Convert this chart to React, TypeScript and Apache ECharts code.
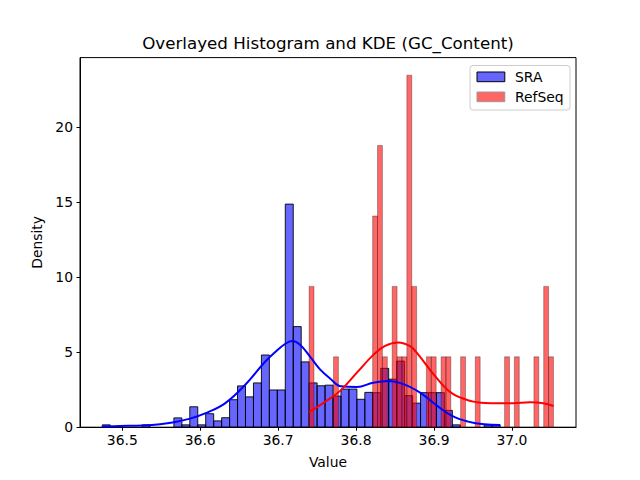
import React, { useEffect, useRef } from "react";
import * as echarts from "echarts";

// ---- data ----
const sraBinStart = 36.4743;
const sraBinWidth = 0.01021;
const sraDensity = [
  0.155, 0, 0, 0, 0, 0.155, 0, 0, 0, 0.62,
  0.155, 1.36, 0.155, 0.9, 0.42, 0.63, 1.83, 2.75, 2.02, 2.95,
  4.81, 2.48, 2.48, 14.86, 6.7, 4.35, 2.95, 2.76, 2.8, 2.07,
  2.54, 2.54, 1.86, 2.32, 2.3, 3.92, 3.2, 4.4, 2.1, 1.6,
  2.3, 2.3, 2.3, 1.12, 0.155, 0, 0, 0, 0.155, 0.155,
];

const refBinStart = 36.7397;
const refBinWidth = 0.006272;
const refDensity = [
  9.38, 0, 0, 0, 0, 4.69, 0, 0, 0, 0,
  0, 0, 0, 14.07, 18.76, 4.69, 0, 9.38, 4.69, 4.69,
  23.45, 9.38, 0, 0, 4.69, 4.69, 0, 4.69, 4.69, 0,
  0, 4.69, 0, 0, 4.69, 0, 0, 0, 0, 0,
  4.69, 0, 4.69, 0, 0, 0, 4.69, 0, 9.38, 4.69,
];

const sraKdeX = [
  36.4743, 36.497, 36.5266, 36.5484, 36.5664, 36.5869, 36.6062, 36.6318, 36.6575,
  36.6832, 36.696, 36.7088, 36.7178, 36.7281, 36.7409, 36.7537, 36.7666, 36.7807,
  36.8012, 36.8218, 36.841, 36.8616, 36.8821, 36.9027, 36.9232, 36.9437, 36.9643, 36.985,
];
const sraKdeY = [
  0.05, 0.08, 0.12, 0.2, 0.33, 0.57, 0.92, 1.59, 2.81,
  4.36, 5.0, 5.54, 5.74, 5.5, 4.7, 3.85, 3.25, 2.72,
  2.68, 2.96, 3.07, 2.85, 2.3, 1.48, 0.75, 0.37, 0.19, 0.15,
];

const refKdeX = [
  36.7397, 36.7576, 36.7795, 36.8013, 36.8218, 36.8372, 36.8539, 36.8693, 36.8796,
  36.9014, 36.9232, 36.9489, 36.9656, 36.981, 37.0016, 37.0234, 37.0401, 37.0533,
];
const refKdeY = [
  1.0, 1.6, 2.42, 3.65, 4.8, 5.42, 5.65, 5.4, 4.85,
  3.4, 2.25, 1.72, 1.62, 1.59, 1.6, 1.66, 1.6, 1.41,
];

const xTicks = [36.5, 36.6, 36.7, 36.8, 36.9, 37.0];
const yTicks = [0, 5, 10, 15, 20];
const xMin = 36.4457;
const xMax = 37.0822;
const yMax = 24.62;

const titleText = "Overlayed Histogram and KDE (GC_Content)";
const seriesNames = ["SRA", "RefSeq"];

const FONT = "DejaVu Sans";

function bins(start: number, width: number, dens: number[]) {
  const out: number[][] = [];
  dens.forEach((d, i) => {
    if (d > 0) out.push([start + i * width, start + (i + 1) * width, d]);
  });
  return out;
}

function makeRender(fill: string, stroke: string, lw: number) {
  return (params: any, api: any) => {
    const x0 = api.value(0);
    const x1 = api.value(1);
    const y = api.value(2);
    const p0 = api.coord([x0, y]);
    const p1 = api.coord([x1, 0]);
    return {
      type: "rect",
      shape: { x: p0[0], y: p0[1], width: p1[0] - p0[0], height: p1[1] - p0[1] },
      style: { fill, stroke, lineWidth: lw },
    };
  };
}

export default function App() {
  const ref = useRef<HTMLDivElement>(null);
  useEffect(() => {
    if (!ref.current) return;
    const chart = echarts.init(ref.current, undefined, { renderer: "svg" });
    const option: any = {
      animation: false,
      backgroundColor: "#ffffff",
      textStyle: { fontFamily: FONT },
      grid: {
        left: 80,
        right: 64,
        top: 57.6,
        bottom: 52.8,
        show: true,
        borderColor: "#000",
        borderWidth: 1,
        containLabel: false,
      },
      xAxis: {
        type: "value",
        min: xMin,
        max: xMax,
        name: "Value",
        nameLocation: "middle",
        nameGap: 28,
        nameTextStyle: { fontSize: 13.9, color: "#000", fontFamily: FONT },
        axisLine: { show: true, lineStyle: { color: "#000", width: 1 } },
        axisTick: {
          show: true,
          inside: false,
          length: 3.5,
          customValues: xTicks,
          lineStyle: { color: "#000" },
        },
        axisLabel: {
          customValues: xTicks,
          margin: 6,
          fontSize: 13.9,
          color: "#000",
          fontFamily: FONT,
          formatter: (v: number) => v.toFixed(1),
        },
        splitLine: { show: false },
      },
      yAxis: {
        type: "value",
        min: 0,
        max: yMax,
        name: "Density",
        nameLocation: "middle",
        nameGap: 31,
        nameRotate: 90,
        nameTextStyle: { fontSize: 13.9, color: "#000", fontFamily: FONT },
        axisLine: { show: true, lineStyle: { color: "#000", width: 1 } },
        axisTick: {
          show: true,
          inside: false,
          length: 3.5,
          customValues: yTicks,
          lineStyle: { color: "#000" },
        },
        axisLabel: {
          customValues: yTicks,
          margin: 7,
          fontSize: 13.9,
          color: "#000",
          fontFamily: FONT,
          formatter: (v: number) => String(Math.round(v)),
        },
        splitLine: { show: false },
      },
      graphic: [
        {
          type: "text",
          x: 328,
          y: 43,
          z: 100,
          style: {
            text: titleText,
            font: `16.7px "${FONT}"`,
            fill: "#000",
            textAlign: "center",
            textVerticalAlign: "middle",
          },
        },
        {
          type: "rect",
          z: 100,
          shape: { x: 470, y: 65.5, width: 100, height: 44.5, r: 3 },
          style: { fill: "rgba(255,255,255,0.8)", stroke: "#cccccc", lineWidth: 1 },
        },
        {
          type: "rect",
          z: 101,
          shape: { x: 477, y: 72, width: 27.8, height: 9.7 },
          style: { fill: "#6666ff", stroke: "#000", lineWidth: 1 },
        },
        {
          type: "rect",
          z: 101,
          shape: { x: 477, y: 92, width: 27.8, height: 9.7 },
          style: { fill: "#ff6666", stroke: "#999999", lineWidth: 1 },
        },
        {
          type: "text",
          z: 101,
          x: 515,
          y: 77,
          style: {
            text: seriesNames[0],
            font: `13.9px "${FONT}"`,
            fill: "#000",
            textAlign: "left",
            textVerticalAlign: "middle",
          },
        },
        {
          type: "text",
          z: 101,
          x: 515,
          y: 97,
          style: {
            text: seriesNames[1],
            font: `13.9px "${FONT}"`,
            fill: "#000",
            textAlign: "left",
            textVerticalAlign: "middle",
          },
        },
      ],
      series: [
        {
          name: seriesNames[0],
          type: "custom",
          renderItem: makeRender("rgba(0,0,255,0.6)", "rgba(0,0,0,0.9)", 1),
          encode: { x: [0, 1], y: 2 },
          data: bins(sraBinStart, sraBinWidth, sraDensity),
          z: 1,
        },
        {
          name: seriesNames[1],
          type: "custom",
          renderItem: makeRender("rgba(255,0,0,0.6)", "rgba(0,0,0,0.3)", 1),
          encode: { x: [0, 1], y: 2 },
          data: bins(refBinStart, refBinWidth, refDensity),
          z: 2,
        },
        {
          name: "SRA KDE",
          type: "line",
          smooth: 0.4,
          symbol: "none",
          data: sraKdeX.map((x, i) => [x, sraKdeY[i]]),
          lineStyle: { color: "#0000ff", width: 2 },
          z: 5,
        },
        {
          name: "RefSeq KDE",
          type: "line",
          smooth: 0.4,
          symbol: "none",
          data: refKdeX.map((x, i) => [x, refKdeY[i]]),
          lineStyle: { color: "#ff0000", width: 2 },
          z: 5,
        },
      ],
    };
    chart.setOption(option);
    return () => chart.dispose();
  }, []);
  return (
    <div
      ref={ref}
      style={{ position: "absolute", left: 0, top: 0, width: 640, height: 480, background: "#fff" }}
    />
  );
}
